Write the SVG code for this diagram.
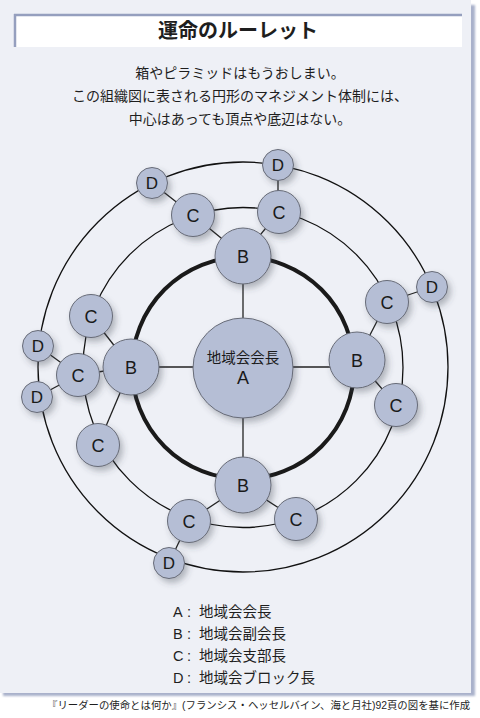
<svg xmlns="http://www.w3.org/2000/svg" width="480" height="718" viewBox="0 0 480 718">
  <defs>
    <filter id="sh" x="-40%" y="-40%" width="180%" height="180%">
      <feDropShadow dx="3" dy="4" stdDeviation="3" flood-color="#3a3f50" flood-opacity="0.35"/>
    </filter>
    <filter id="blur" x="-5%" y="-5%" width="110%" height="110%">
      <feGaussianBlur stdDeviation="1.2"/>
    </filter>
    <style>
      .ring { fill: none; stroke: #111; stroke-width: 1.3; }
      .thick { fill: none; stroke: #1a1a1a; stroke-width: 4; }
      .con line { stroke: #222; stroke-width: 1.3; }
      .node circle { fill: #b5bed5; stroke: #676b77; stroke-width: 1; filter: url(#sh); }
      .node text { font-family: "Liberation Sans", Arial, sans-serif; fill: #1a1a1a; text-anchor: middle; }
      .b text, .c text { font-size: 18px; }
      .d text { font-size: 17px; }
      .jp { font-family: "Liberation Sans", "Noto Sans CJK JP", sans-serif; fill: #1e1e1e; }
    </style>
  </defs>

  <!-- background panel -->
  <rect x="0" y="0" width="480" height="718" fill="#ffffff"/>
  <rect x="3" y="5" width="472" height="691" fill="#a9b1cb" filter="url(#blur)"/>
  <rect x="0" y="0" width="471" height="693" fill="#eef0f6"/>

  <!-- title box -->
  <rect x="14" y="14" width="448" height="33" fill="#ffffff"/>
  <line x1="14" y1="15" x2="462" y2="15" stroke="#959fbe" stroke-width="2.5"/>
  <line x1="15" y1="14" x2="15" y2="47" stroke="#959fbe" stroke-width="2.5"/>
  <text x="238" y="38" class="jp" font-size="20" font-weight="bold" text-anchor="middle" fill="#111">運命のルーレット</text>

  <!-- subtitle -->
  <g class="jp" font-size="14" text-anchor="middle">
    <text x="240" y="78">箱やピラミッドはもうおしまい。</text>
    <text x="240" y="101">この組織図に表される円形のマネジメント体制には、</text>
    <text x="240" y="124">中心はあっても頂点や底辺はない。</text>
  </g>

  <!-- rings -->
  <g id="rings">
    <circle class="ring" cx="243" cy="367" r="205"/>
    <circle class="ring" cx="243" cy="367.5" r="160"/>
    <circle class="thick" cx="243" cy="368" r="111"/>
  </g>

  <!-- connectors -->
  <g id="connectors" class="con">
    <line x1="243" y1="368" x2="243" y2="256"/>
    <line x1="243" y1="367" x2="357" y2="367"/>
    <line x1="243" y1="368" x2="243" y2="485"/>
    <line x1="243" y1="367" x2="131" y2="367"/>
    <line x1="243" y1="256" x2="193" y2="215"/>
    <line x1="243" y1="256" x2="279" y2="212"/>
    <line x1="193" y1="215" x2="152" y2="183"/>
    <line x1="278" y1="212" x2="278" y2="165"/>
    <line x1="357" y1="360" x2="387" y2="302"/>
    <line x1="357" y1="360" x2="396" y2="405"/>
    <line x1="387" y1="302" x2="432" y2="287"/>
    <line x1="243" y1="485" x2="189" y2="521"/>
    <line x1="243" y1="485" x2="296" y2="519"/>
    <line x1="189" y1="521" x2="169" y2="563"/>
    <line x1="131" y1="367" x2="91" y2="316"/>
    <line x1="131" y1="367" x2="78" y2="375"/>
    <line x1="131" y1="367" x2="98" y2="445"/>
    <line x1="78" y1="375" x2="38" y2="346"/>
    <line x1="78" y1="375" x2="37" y2="397"/>
  </g>

  <!-- nodes -->
  <g id="nodeA" class="node a">
    <circle cx="243" cy="368" r="50"/>
    <text x="243" y="363" style="font-family:'Liberation Sans','Noto Sans CJK JP',sans-serif;font-size:14.5px">地域会会長</text>
    <text x="243" y="384" style="font-size:18px">A</text>
  </g>

  <g id="nodeB1" class="node b"><circle cx="243" cy="256" r="28"/><text x="243" y="262.5">B</text></g>
  <g id="nodeB2" class="node b"><circle cx="357" cy="360" r="28"/><text x="357" y="366.5">B</text></g>
  <g id="nodeB3" class="node b"><circle cx="243" cy="485" r="28"/><text x="243" y="491.5">B</text></g>
  <g id="nodeB4" class="node b"><circle cx="131" cy="367" r="28"/><text x="131" y="373.5">B</text></g>

  <g id="nodeC1" class="node c"><circle cx="193" cy="215" r="21.5"/><text x="193" y="221.5">C</text></g>
  <g id="nodeC2" class="node c"><circle cx="279" cy="212" r="21.5"/><text x="279" y="218.5">C</text></g>
  <g id="nodeC3" class="node c"><circle cx="387" cy="302" r="21.5"/><text x="387" y="308.5">C</text></g>
  <g id="nodeC4" class="node c"><circle cx="396" cy="405" r="21.5"/><text x="396" y="411.5">C</text></g>
  <g id="nodeC5" class="node c"><circle cx="296" cy="519" r="21.5"/><text x="296" y="525.5">C</text></g>
  <g id="nodeC6" class="node c"><circle cx="189" cy="521" r="21.5"/><text x="189" y="527.5">C</text></g>
  <g id="nodeC7" class="node c"><circle cx="98" cy="445" r="21.5"/><text x="98" y="451.5">C</text></g>
  <g id="nodeC8" class="node c"><circle cx="78" cy="375" r="21.5"/><text x="78" y="381.5">C</text></g>
  <g id="nodeC9" class="node c"><circle cx="91" cy="316" r="21.5"/><text x="91" y="322.5">C</text></g>

  <g id="nodeD1" class="node d"><circle cx="278" cy="165" r="15.5"/><text x="278" y="171">D</text></g>
  <g id="nodeD2" class="node d"><circle cx="152" cy="183" r="15.5"/><text x="152" y="189">D</text></g>
  <g id="nodeD3" class="node d"><circle cx="432" cy="287" r="15.5"/><text x="432" y="293">D</text></g>
  <g id="nodeD4" class="node d"><circle cx="38" cy="346" r="15.5"/><text x="38" y="352">D</text></g>
  <g id="nodeD5" class="node d"><circle cx="37" cy="397" r="15.5"/><text x="37" y="403">D</text></g>
  <g id="nodeD6" class="node d"><circle cx="169" cy="563" r="15.5"/><text x="169" y="569">D</text></g>

  <!-- legend -->
  <g id="legend" class="jp" font-size="14.5">
    <text y="617"><tspan x="173">A</tspan><tspan x="187">:</tspan><tspan x="199">地域会会長</tspan></text>
    <text y="639"><tspan x="173">B</tspan><tspan x="187">:</tspan><tspan x="199">地域会副会長</tspan></text>
    <text y="661"><tspan x="173">C</tspan><tspan x="187">:</tspan><tspan x="199">地域会支部長</tspan></text>
    <text y="683"><tspan x="173">D</tspan><tspan x="187">:</tspan><tspan x="199">地域会ブロック長</tspan></text>
  </g>

  <!-- footer -->
  <text x="47" y="709" class="jp" font-size="10.4" fill="#2a2a2a">『リーダーの使命とは何か』(フランシス・ヘッセルバイン、海と月社)92頁の図を基に作成</text>
</svg>
